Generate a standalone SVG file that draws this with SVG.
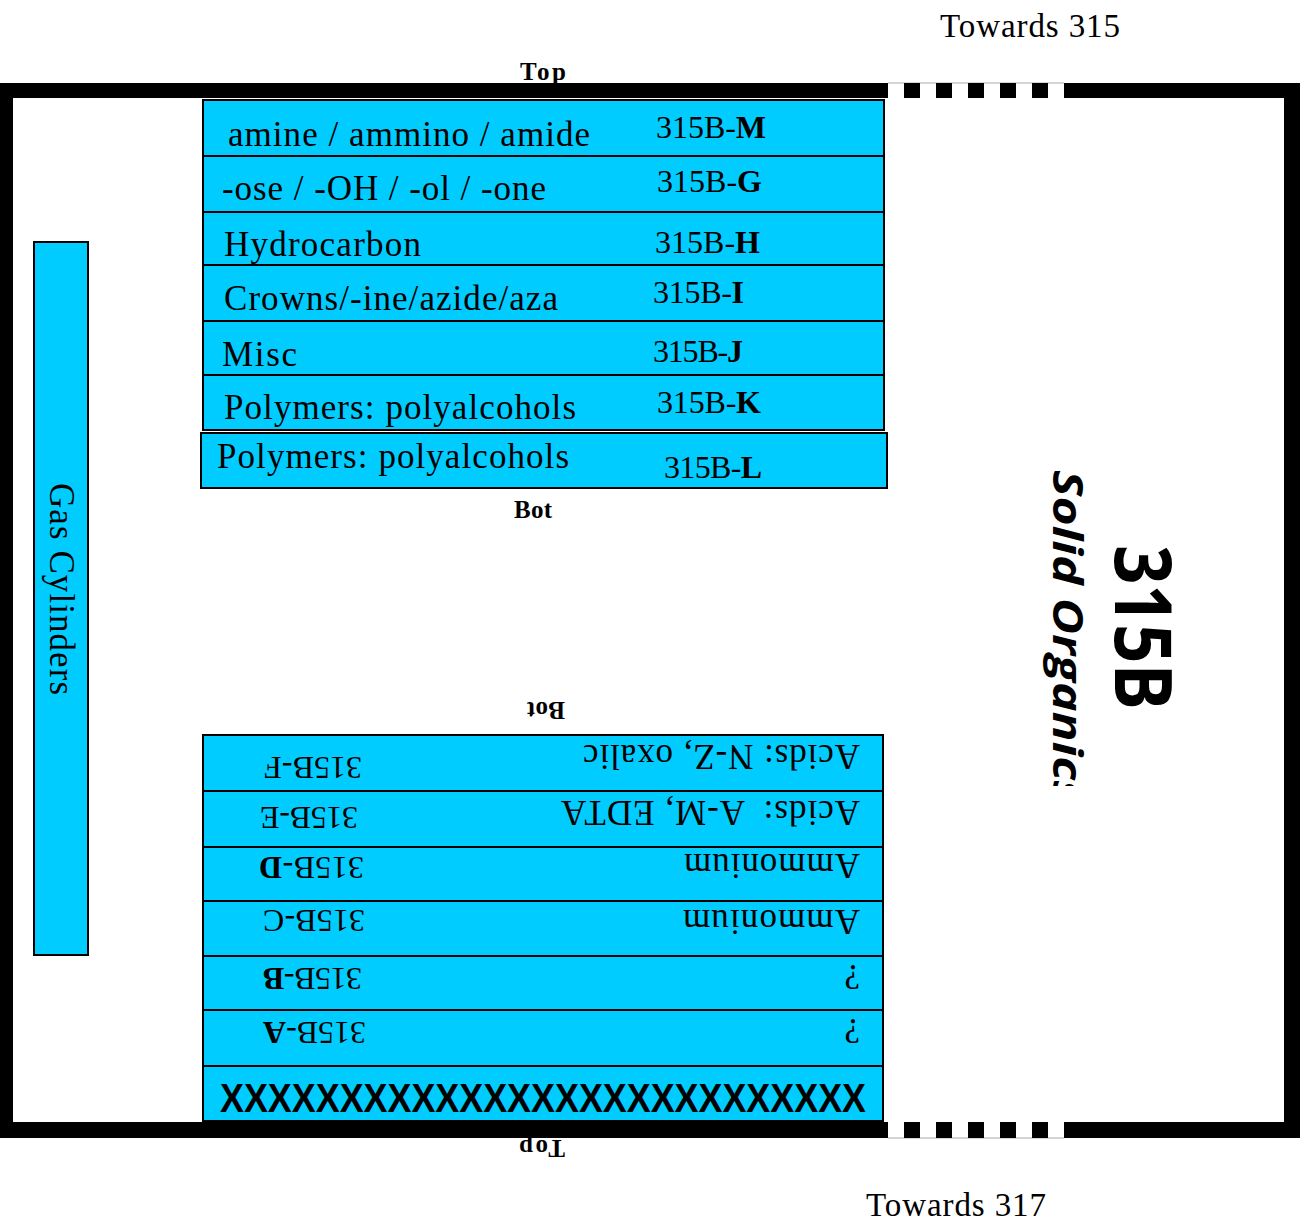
<svg xmlns="http://www.w3.org/2000/svg" width="1304" height="1224" viewBox="0 0 1304 1224">
<style>
.shelf{fill:#00CCFF;stroke:#000;stroke-width:2}
.t{font-family:"Liberation Serif","Times New Roman",serif;font-size:35px;fill:#000}
.c{font-family:"Liberation Serif","Times New Roman",serif;font-size:32px;fill:#000}
.b{font-weight:bold}
.lbl{font-family:"Liberation Serif","Times New Roman",serif;font-size:25px;font-weight:bold;fill:#000}
.tw{font-family:"Liberation Serif","Times New Roman",serif;font-size:33px;fill:#000}
</style>
<defs>
<clipPath id="clipSO"><rect x="1000" y="440" width="120" height="346"/></clipPath>
</defs>
<rect width="1304" height="1224" fill="#fff"/>
<g id="walls">
<rect x="0" y="83" width="1300" height="1055" fill="#000"/>
<rect x="13" y="98" width="1271" height="1024" fill="#fff"/>
<g id="door-top">
<rect x="888" y="83" width="176" height="15" fill="#fff"/>
<line x1="888" y1="83" x2="1064" y2="83" stroke="#aaa" stroke-width="1"/>
<rect x="904" y="83" width="16" height="15" fill="#000"/>
<rect x="936" y="83" width="16" height="15" fill="#000"/>
<rect x="968" y="83" width="16" height="15" fill="#000"/>
<rect x="1000" y="83" width="16" height="15" fill="#000"/>
<rect x="1032" y="83" width="16" height="15" fill="#000"/>
</g>
<g id="door-bottom">
<rect x="888" y="1122" width="176" height="16" fill="#fff"/>
<line x1="888" y1="1138" x2="1064" y2="1138" stroke="#aaa" stroke-width="1"/>
<rect x="904" y="1122" width="16" height="16" fill="#000"/>
<rect x="936" y="1122" width="16" height="16" fill="#000"/>
<rect x="968" y="1122" width="16" height="16" fill="#000"/>
<rect x="1000" y="1122" width="16" height="16" fill="#000"/>
<rect x="1032" y="1122" width="16" height="16" fill="#000"/>
</g>
</g>
<g id="labels">
<text class="tw" x="940" y="37" textLength="180">Towards 315</text>
<text class="tw" x="866" y="1216" textLength="180">Towards 317</text>
<text class="lbl" x="520" y="80" textLength="46">Top</text>
<text class="lbl" x="514" y="518" textLength="38">Bot</text>
<text class="lbl" transform="translate(565,702) rotate(180)" textLength="38">Bot</text>
<text class="lbl" transform="translate(565,1140) rotate(180)" textLength="46">Top</text>
</g>
<g id="room-title">
<text transform="translate(1115,545) rotate(90)" font-family="'Open Sans','DejaVu Sans',sans-serif" font-weight="bold" font-size="78" textLength="165" lengthAdjust="spacingAndGlyphs">315B</text>
<g clip-path="url(#clipSO)">
<text transform="translate(1053,470) rotate(90)" font-family="'Open Sans','DejaVu Sans',sans-serif" font-style="italic" font-weight="bold" font-size="41" textLength="334" lengthAdjust="spacingAndGlyphs">Solid Organics</text>
</g>
</g>
<g id="gas-cylinders">
<rect class="shelf" x="34" y="242" width="54" height="713"/>
<text class="t" transform="translate(50,483) rotate(90)" font-size="36" textLength="212">Gas Cylinders</text>
</g>
<g id="shelf-top">
<g id="M"><rect class="shelf" x="203" y="100" width="681" height="56"/>
<text class="t" x="228" y="146" textLength="362">amine / ammino / amide</text>
<text class="c" x="656" y="138" textLength="110">315B-<tspan class="b">M</tspan></text></g>
<g id="G"><rect class="shelf" x="203" y="156" width="681" height="56"/>
<text class="t" x="222" y="200" textLength="324">-ose / -OH / -ol / -one</text>
<text class="c" x="657" y="192" textLength="105">315B-<tspan class="b">G</tspan></text></g>
<g id="H"><rect class="shelf" x="203" y="212" width="681" height="53"/>
<text class="t" x="224" y="256" textLength="197">Hydrocarbon</text>
<text class="c" x="655" y="253" textLength="105">315B-<tspan class="b">H</tspan></text></g>
<g id="I"><rect class="shelf" x="203" y="265" width="681" height="56"/>
<text class="t" x="224" y="310" textLength="334">Crowns/-ine/azide/aza</text>
<text class="c" x="653" y="303" textLength="91">315B-<tspan class="b">I</tspan></text></g>
<g id="J"><rect class="shelf" x="203" y="321" width="681" height="54"/>
<text class="t" x="222" y="366" textLength="75">Misc</text>
<text class="c" x="653" y="362" textLength="90">315B-<tspan class="b">J</tspan></text></g>
<g id="K"><rect class="shelf" x="203" y="375" width="681" height="55"/>
<text class="t" x="224" y="419" textLength="352">Polymers: polyalcohols</text>
<text class="c" x="657" y="413" textLength="104">315B-<tspan class="b">K</tspan></text></g>
<g id="L"><rect class="shelf" x="201" y="433" width="686" height="55"/>
<text class="t" x="217" y="468" textLength="352">Polymers: polyalcohols</text>
<text class="c" x="664" y="478" textLength="98">315B-<tspan class="b">L</tspan></text></g>
</g>
<g id="shelf-bottom">
<g id="F"><rect class="shelf" x="203" y="735" width="680" height="56"/>
<text class="t" transform="translate(860,745) rotate(180)" textLength="277">Acids: N-Z, oxalic</text>
<text class="c" transform="translate(362,757) rotate(180)" textLength="98">315B-F</text></g>
<g id="E"><rect class="shelf" x="203" y="791" width="680" height="56"/>
<text class="t" transform="translate(860,801) rotate(180)" textLength="299" xml:space="preserve">Acids:  A-M, EDTA</text>
<text class="c" transform="translate(358,807) rotate(180)" textLength="98">315B-E</text></g>
<g id="D"><rect class="shelf" x="203" y="847" width="680" height="54"/>
<text class="t" transform="translate(860,854) rotate(180)" textLength="176">Ammonium</text>
<text class="c" transform="translate(364,857) rotate(180)" textLength="105">315B-<tspan class="b">D</tspan></text></g>
<g id="C"><rect class="shelf" x="203" y="901" width="680" height="55"/>
<text class="t" transform="translate(860,910) rotate(180)" textLength="177">Ammonium</text>
<text class="c" transform="translate(365,910) rotate(180)" textLength="102">315B-C</text></g>
<g id="B"><rect class="shelf" x="203" y="956" width="680" height="54"/>
<text class="t" transform="translate(860,965) rotate(180)">?</text>
<text class="c" transform="translate(362,968) rotate(180)" textLength="99">315B-<tspan class="b">B</tspan></text></g>
<g id="A"><rect class="shelf" x="203" y="1010" width="680" height="56"/>
<text class="t" transform="translate(860,1019) rotate(180)">?</text>
<text class="c" transform="translate(366,1022) rotate(180)" textLength="103">315B-<tspan class="b">A</tspan></text></g>
<g id="X"><rect class="shelf" x="203" y="1066" width="680" height="55"/>
<text x="220" y="1112" font-family="'Liberation Sans',Arial,sans-serif" font-weight="bold" font-size="40" textLength="646" lengthAdjust="spacingAndGlyphs">XXXXXXXXXXXXXXXXXXXXXXXXXXX</text></g>
</g>
</svg>
